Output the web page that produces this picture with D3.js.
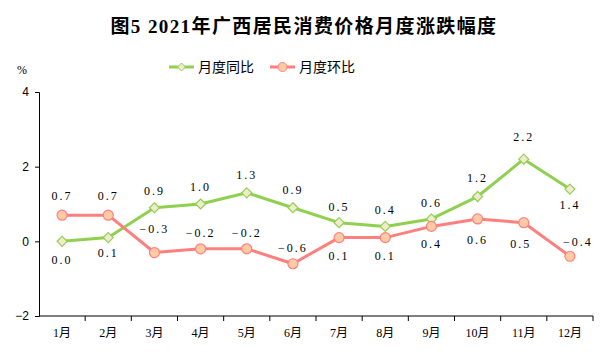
<!DOCTYPE html>
<html><head><meta charset="utf-8">
<script src="https://cdn.jsdelivr.net/npm/d3@7"></script>
<style>body{margin:0;background:#fff}svg{display:block}</style>
</head><body><svg id="c" width="603" height="356"></svg>
<script>
const months = ["1月","2月","3月","4月","5月","6月","7月","8月","9月","10月","11月","12月"];
const yoy = [0.0,0.1,0.9,1.0,1.3,0.9,0.5,0.4,0.6,1.2,2.2,1.4];
const mom = [0.7,0.7,-0.3,-0.2,-0.2,-0.6,0.1,0.1,0.4,0.6,0.5,-0.4];
const yTicks = [-2,0,2,4];
const seriesNames = ["月度同比","月度环比"];
const title = "图5 2021年广西居民消费价格月度涨跌幅度";

const svg = d3.select("#c");
const green = "#8FD14F", red = "#FF7F7F";
const serif = "'Liberation Serif','DejaVu Serif','Noto Sans CJK SC',serif";
const cjk = "'Noto Sans CJK SC',sans-serif";

const x = d3.scaleBand().domain(months).range([39, 593]);
const y = d3.scaleLinear().domain([-2, 4]).range([316, 92]);

svg.append("text").attr("x", 304).attr("y", 33).attr("text-anchor", "middle")
  .attr("font-family", "'Liberation Serif','Noto Sans CJK SC',serif").attr("font-weight", "bold")
  .attr("font-size", 19).attr("letter-spacing", "1.4px").attr("fill", "#000").text(title);

svg.append("text").attr("x", 22).attr("y", 74).attr("text-anchor", "middle")
  .attr("font-family", serif).attr("font-size", 12).text("%");

// y axis
const ya = svg.append("g").attr("transform", "translate(39,0)")
  .call(d3.axisLeft(y).tickValues(yTicks).tickSize(4).tickPadding(6).tickFormat(d3.format("d")));
ya.selectAll("path").attr("stroke", "#000");
ya.selectAll("line").attr("stroke", "#000");
ya.selectAll("text").attr("font-family", "'Liberation Sans',Arial,sans-serif").attr("font-size", 12).attr("fill", "#000");

// x axis
const xa = svg.append("g").attr("transform", "translate(0,316)")
  .call(d3.axisBottom(x).tickSize(0).tickPadding(12));
xa.select("path").attr("stroke", "#000").attr("d", "M39,0H593");
xa.selectAll("text").attr("font-family", serif).attr("font-size", 12).attr("fill", "#000");
const bounds = months.map((m) => x(m) + x.bandwidth());
xa.selectAll("line.bt").data(bounds).join("line").attr("class", "bt")
  .attr("x1", d => d).attr("x2", d => d).attr("y1", 0).attr("y2", 5).attr("stroke", "#000");

const cx = m => x(m) + x.bandwidth() / 2;
const line = d3.line().x((d, i) => cx(months[i])).y(d => y(d));

function drawSeries(vals, color, marker) {
  svg.append("path").datum(vals).attr("d", line).attr("fill", "none")
    .attr("stroke", color).attr("stroke-width", 3).attr("stroke-linejoin", "round");
  const g = svg.append("g");
  vals.forEach((v, i) => {
    const px = cx(months[i]), py = y(v);
    if (marker === "diamond") {
      g.append("path").attr("d", `M${px},${py-5}L${px+5},${py}L${px},${py+5}L${px-5},${py}Z`)
        .attr("fill", "#F3E9CF").attr("stroke", color).attr("stroke-width", 1.2);
    } else {
      g.append("circle").attr("cx", px).attr("cy", py).attr("r", 5)
        .attr("fill", "#FFCBA4").attr("stroke", color).attr("stroke-width", 1.2);
    }
  });
}
drawSeries(yoy, green, "diamond");
drawSeries(mom, red, "circle");

// data labels
const yoyDy = [19,15,-17,-17,-18,-18,-16,-16,-16,-19,-22,16];
const momDy = [-19,-19,-24,-16,-16,-16,18,18,18,21,21,-14];
const momDx = [0,0,0,0,0,0,0,0,0,0,-3,8];
function labels(vals, dys, dxs) {
  vals.forEach((v, i) => {
    svg.append("text").attr("x", cx(months[i]) + (dxs ? dxs[i] : 0)).attr("y", y(v) + dys[i] + 4)
      .attr("text-anchor", "middle").attr("font-family", serif).attr("font-size", 12)
      .attr("letter-spacing", "2px").attr("fill", "#000").text(d3.format(".1f")(v).replace("-", "−"));
  });
}
labels(yoy, yoyDy, null);
labels(mom, momDy, momDx);

// legend
const leg = [[169, green, "diamond"], [270, red, "circle"]];
leg.forEach((l, k) => {
  const [lx, col, mk] = l;
  const ly = 67;
  svg.append("line").attr("x1", lx).attr("x2", lx + 25).attr("y1", ly).attr("y2", ly)
    .attr("stroke", col).attr("stroke-width", 3);
  const mx = lx + 12.5;
  if (mk === "diamond") svg.append("path").attr("d", `M${mx},${ly-4}L${mx+4},${ly}L${mx},${ly+4}L${mx-4},${ly}Z`)
    .attr("fill", "#F3E9CF").attr("stroke", col);
  else svg.append("circle").attr("cx", mx).attr("cy", ly).attr("r", 4.5).attr("fill", "#FFCBA4").attr("stroke", col);
  svg.append("text").attr("x", lx + 29).attr("y", ly + 5).attr("font-family", cjk)
    .attr("font-size", 14).attr("fill", "#000").text(seriesNames[k]);
});
</script></body></html>
